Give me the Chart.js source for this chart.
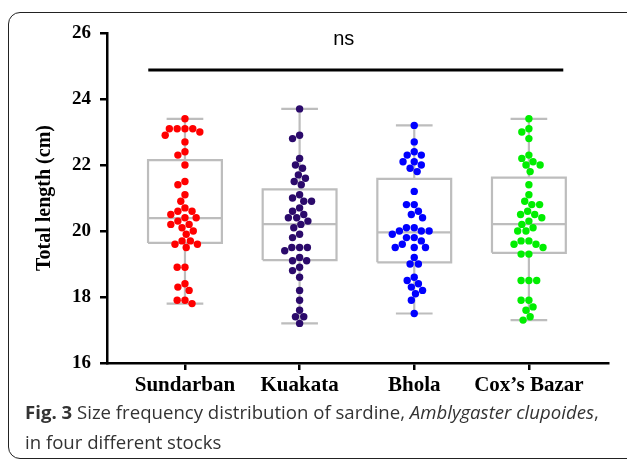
<!DOCTYPE html>
<html><head><meta charset="utf-8">
<script src="https://cdn.jsdelivr.net/npm/chart.js@4.4.0/dist/chart.umd.min.js"></script>
<style>
html,body{margin:0;padding:0;background:#fff;}
#wrap{position:relative;width:627px;height:465px;overflow:hidden;}
#frame{position:absolute;left:8px;top:12px;width:650px;height:447px;border:1.5px solid #222;border-radius:12px;box-sizing:border-box;}
#c{position:absolute;left:0;top:0;}
#cap{position:absolute;left:25px;top:397px;font-family:'Open Sans';font-size:18.6px;color:#333;line-height:30px;white-space:nowrap;}
</style></head>
<body><div id="wrap"><div id="frame"></div><canvas id="c" width="627" height="465"></canvas>
<div id="cap"><b>Fig. 3</b> Size frequency distribution of sardine, <i>Amblygaster clupoides</i>,<br>in four different stocks</div></div>
<script>
const categories = ['Sundarban', 'Kuakata', 'Bhola', 'Cox\u2019s Bazar'];
const yTicks = [16, 18, 20, 22, 24, 26];

const sundarban = [23.4, 23.1, 23.1, 23.0, 22.9, 23.1, 23.1, 22.7, 22.4, 22.3, 22.0, 21.5, 21.4, 21.1, 20.9, 20.7,
  20.6, 20.6, 20.5, 20.4, 20.4, 20.2, 20.1, 20.2, 20.3, 20.0, 19.9, 19.7, 19.6, 19.5, 19.6, 19.7, 18.9, 18.9,
  18.4, 18.3, 18.2, 17.9, 17.9, 17.8];
const kuakata = [23.7, 22.9, 22.8, 22.2, 22.0, 21.9, 21.7, 21.6, 21.5, 21.4, 21.1, 21.0, 20.9, 20.9, 20.7, 20.6,
  20.5, 20.4, 20.4, 20.3, 20.2, 20.1, 19.9, 19.8, 19.5, 19.5, 19.5, 19.4, 19.2, 19.1, 19.1, 18.9, 18.8, 18.6,
  18.2, 17.9, 17.6, 17.4, 17.4, 17.2];
const bhola = [23.2, 22.7, 22.4, 22.3, 22.3, 22.1, 22.1, 22.0, 21.9, 21.8, 21.2, 20.8, 20.8, 20.6, 20.5, 20.4,
  20.1, 20.1, 20.0, 20.0, 20.0, 19.9, 19.8, 19.8, 19.7, 19.6, 19.5, 19.5, 19.5, 19.2, 19.0, 19.0, 18.6, 18.5,
  18.4, 18.3, 18.2, 18.1, 17.9, 17.5];
const coxsBazar = [23.4, 23.1, 23.0, 22.8, 22.3, 22.2, 22.1, 22.0, 22.0, 21.8, 21.4, 21.1, 20.9, 20.8, 20.8, 20.6,
  20.5, 20.5, 20.4, 20.3, 20.2, 20.1, 20.0, 20.0, 19.7, 19.7, 19.6, 19.6, 19.5, 19.3, 19.3, 18.5, 18.5, 18.5,
  17.9, 17.9, 17.7, 17.6, 17.4, 17.3];

const whiskerLow = [17.8, 17.2, 17.5, 17.3];
const q1 = [19.64, 19.12, 19.05, 19.34];
const medians = [20.39, 20.21, 19.96, 20.21];
const q3 = [22.15, 21.26, 21.58, 21.62];
const whiskerHigh = [23.4, 23.7, 23.2, 23.4];

const sigFrom = -0.32, sigTo = 3.30, sigY = 24.88, sigLabel = 'ns';

const series = [sundarban, kuakata, bhola, coxsBazar];
const dotColors = ['#ff0000', '#2b0a6b', '#0000ff', '#00ee00'];
const BOX_HALF = 0.322, CAP_HALF = 0.16;

function boxPoints(i) {
  const L = i - BOX_HALF, R = i + BOX_HALF, gap = {x: i, y: null};
  return [
    {x: L, y: q1[i]}, {x: R, y: q1[i]}, {x: R, y: q3[i]}, {x: L, y: q3[i]}, {x: L, y: q1[i]}, gap,
    {x: L, y: medians[i]}, {x: R, y: medians[i]}, gap,
    {x: i, y: q3[i]}, {x: i, y: whiskerHigh[i]}, gap,
    {x: i - CAP_HALF, y: whiskerHigh[i]}, {x: i + CAP_HALF, y: whiskerHigh[i]}, gap,
    {x: i, y: q1[i]}, {x: i, y: whiskerLow[i]}, gap,
    {x: i - CAP_HALF, y: whiskerLow[i]}, {x: i + CAP_HALF, y: whiskerLow[i]}
  ];
}

const datasets = [];
series.forEach((vals, i) => {
  datasets.push({
    label: categories[i], data: vals.map(v => ({x: i, y: v})),
    backgroundColor: dotColors[i], borderWidth: 0, pointRadius: 3.7, pointHoverRadius: 3.7
  });
});
series.forEach((vals, i) => {
  datasets.push({
    label: categories[i] + ' box', data: boxPoints(i), showLine: true, spanGaps: false,
    borderColor: '#bdbdbd', borderWidth: 2.2, pointRadius: 0, fill: false
  });
});
datasets.push({
  label: 'sig', data: [{x: sigFrom, y: sigY}, {x: sigTo, y: sigY}], showLine: true,
  borderColor: '#000', borderWidth: 3, pointRadius: 0
});

const nsPlugin = {
  id: 'ns',
  afterDatasetsDraw(chart) {
    const ctx = chart.ctx, xs = chart.scales.x, ys = chart.scales.y;
    ctx.save();
    ctx.font = '20px "Liberation Sans"';
    ctx.fillStyle = '#000';
    ctx.textAlign = 'center';
    ctx.textBaseline = 'middle';
    ctx.fillText(sigLabel, xs.getPixelForValue((sigFrom + sigTo) / 2) - 12, ys.getPixelForValue(sigY) - 30);
    ctx.restore();
  }
};

const serif = 'Liberation Serif';
const chart = new Chart(document.getElementById('c'), {
  type: 'scatter',
  data: {datasets},
  plugins: [nsPlugin],
  options: {
    responsive: false, animation: false, devicePixelRatio: 1,
    layout: {padding: {left: 0, right: 19, top: 33, bottom: 62}},
    plugins: {legend: {display: false}, tooltip: {enabled: false}},
    scales: {
      x: {
        type: 'linear', min: -0.68, max: 3.69,
        afterBuildTicks: s => { s.ticks = categories.map((c, i) => ({value: i})); },
        afterFit: s => { s.height = 40; },
        ticks: {callback: v => categories[v], color: '#000', padding: 3, maxRotation: 0, autoSkip: false,
          font: {family: serif, size: 21, weight: 'bold'}},
        grid: {display: true, drawOnChartArea: false, drawTicks: true, tickLength: 7, color: '#000', lineWidth: 2.5},
        border: {display: true, color: '#000', width: 2.5}
      },
      y: {
        min: 16, max: 26,
        afterBuildTicks: s => { s.ticks = yTicks.map(v => ({value: v})); },
        afterFit: s => { s.width = 107; },
        ticks: {color: '#000', padding: 9, font: {family: serif, size: 19, weight: 'bold'}},
        grid: {display: true, drawOnChartArea: false, drawTicks: true, tickLength: 7, color: '#000', lineWidth: 2.5},
        border: {display: true, color: '#000', width: 2.5},
        title: {display: true, text: 'Total length (cm)', color: '#000', padding: {top: 33, bottom: 0},
          font: {family: serif, size: 20, weight: 'bold'}}
      }
    }
  }
});

// arrange the dots of each group as a beeswarm using the chart's own scales
function swarm(values, i) {
  const xs = chart.scales.x, ys = chart.scales.y;
  const ppu = xs.getPixelForValue(1) - xs.getPixelForValue(0);
  const D = 7.8;
  const pts = values.map(v => ({v, py: ys.getPixelForValue(v)})).sort((a, b) => a.py - b.py);
  const placed = [];
  pts.forEach(p => {
    const cands = [0];
    placed.forEach(q => {
      const dy = Math.abs(q.py - p.py);
      if (dy < D) { const dx = Math.sqrt(D * D - dy * dy); cands.push(q.px + dx, q.px - dx); }
    });
    cands.sort((a, b) => Math.abs(a) - Math.abs(b) || a - b);
    let best = 0;
    for (const c of cands) {
      if (placed.every(q => Math.hypot(q.px - c, q.py - p.py) >= D - 0.01)) { best = c; break; }
    }
    p.px = best; placed.push(p);
  });
  return pts.map(p => ({x: i + p.px / ppu, y: p.v}));
}
series.forEach((vals, i) => { chart.data.datasets[i].data = swarm(vals, i); });
chart.update('none');
</script>
</body></html>
